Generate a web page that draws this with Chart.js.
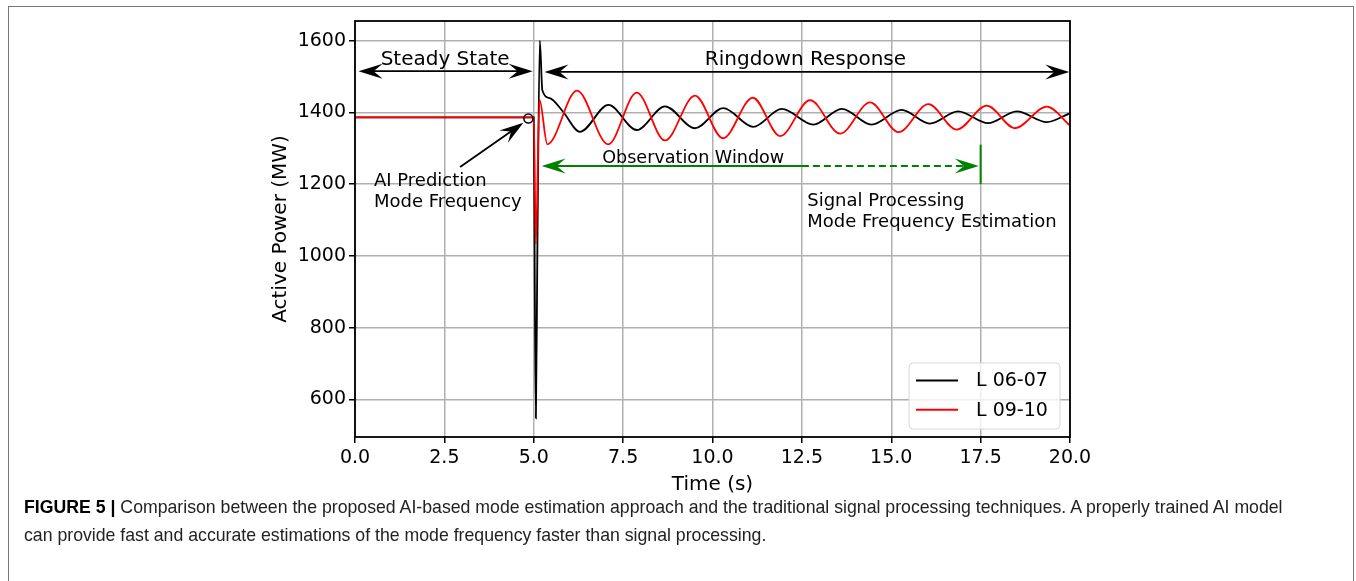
<!DOCTYPE html>
<html>
<head>
<meta charset="utf-8">
<script src="https://cdn.jsdelivr.net/npm/chart.js@4.4.1/dist/chart.umd.min.js"></script>
<style>
  html, body { margin: 0; padding: 0; background: #fff; width: 1356px; height: 581px; overflow: hidden; }
  .frame { position: absolute; left: 8px; top: 6px; width: 1344px; height: 640px; border: 1px solid #777; }
  #chartWrap { position: absolute; left: 0; top: 0; width: 1356px; height: 500px; }
  .caption { position: absolute; left: 24px; top: 493px; font: 17.7px 'Liberation Sans', Arial, sans-serif; line-height: 28px; color: #222; white-space: nowrap; }
  .caption b { color: #000; }
</style>
</head>
<body>
<div class="frame"></div>
<div id="chartWrap"><canvas id="chart" width="1356" height="500"></canvas></div>
<div class="caption"><b>FIGURE 5 |</b> Comparison between the proposed AI-based mode estimation approach and the traditional signal processing techniques. A properly trained AI model<br>can provide fast and accurate estimations of the mode frequency faster than signal processing.</div>
<script>
// ── Data ──────────────────────────────────────────────────────────────
const xTicks = [0, 2.5, 5, 7.5, 10, 12.5, 15, 17.5, 20];
const yTicks = [600, 800, 1000, 1200, 1400, 1600];

// L 06-07 (black): steady state, fault spike, then ringdown extremes
const l0607Time  = [0, 5.00, 5.03, 5.06, 5.10, 5.17, 5.24, 5.45, 5.82, 6.29, 7.09, 7.88, 8.67, 9.51, 10.30, 11.14, 11.94, 12.82, 13.62, 14.45, 15.29, 16.08, 16.87, 17.71, 18.51, 19.35, 20.0];
const l0607Power = [1386, 1386, 900, 547, 1000, 1600, 1462, 1440, 1402, 1346, 1421, 1351, 1417, 1356, 1412, 1360, 1410, 1366, 1410, 1366, 1407, 1369, 1403, 1370, 1403, 1373, 1398];

// L 09-10 (red)
const l0910Time  = [0, 5.00, 5.06, 5.16, 5.38, 6.21, 7.08, 7.88, 8.67, 9.51, 10.29, 11.13, 11.89, 12.73, 13.57, 14.41, 15.20, 16.04, 16.83, 17.67, 18.46, 19.35, 20.0];
const l0910Power = [1386, 1386, 1033, 1436, 1311, 1461, 1311, 1455, 1322, 1447, 1328, 1441, 1334, 1434, 1341, 1428, 1345, 1423, 1352, 1419, 1356, 1416, 1364];

// AI prediction marker
const predTime  = [4.85];
const predPower = [1383];

const FONT = "'DejaVu Sans', sans-serif";
const GREEN = '#008000';

const toPoints = (xs, ys) => xs.map((x, i) => ({ x, y: ys[i] }));

// ── Drawing helpers ───────────────────────────────────────────────────
function arrowHead(ctx, x0, y0, x1, y1, color) {
  const a = Math.atan2(y1 - y0, x1 - x0);
  const L = 24, W = 7.5, N = 15;
  ctx.save();
  ctx.translate(x1, y1);
  ctx.rotate(a);
  ctx.beginPath();
  ctx.moveTo(0, 0);
  ctx.lineTo(-L, -W);
  ctx.lineTo(-N, 0);
  ctx.lineTo(-L, W);
  ctx.closePath();
  ctx.fillStyle = color;
  ctx.fill();
  ctx.restore();
}

function line(ctx, x0, y0, x1, y1, color, width, dash) {
  ctx.save();
  ctx.strokeStyle = color;
  ctx.lineWidth = width;
  ctx.setLineDash(dash || []);
  ctx.beginPath();
  ctx.moveTo(x0, y0);
  ctx.lineTo(x1, y1);
  ctx.stroke();
  ctx.restore();
}

function text(ctx, str, x, y, size, align) {
  ctx.save();
  ctx.font = `${size}px ${FONT}`;
  ctx.fillStyle = '#000';
  ctx.textAlign = align || 'left';
  ctx.textBaseline = 'alphabetic';
  ctx.fillText(str, x, y);
  ctx.restore();
}

// ── Annotations ───────────────────────────────────────────────────────
const annotations = {
  id: 'annotations',
  afterDatasetsDraw(chart) {
    const { ctx, scales } = chart;
    const px = t => scales.x.getPixelForValue(t);
    const py = v => scales.y.getPixelForValue(v);

    // Steady State
    let yy = py(1515);
    line(ctx, px(0.1) + 10, yy, px(4.97) - 10, yy, '#000', 1.8);
    arrowHead(ctx, px(4.97), yy, px(0.1), yy, '#000');
    arrowHead(ctx, px(0.1), yy, px(4.97), yy, '#000');
    text(ctx, 'Steady State', px(2.52), py(1531), 20, 'center');

    // Ringdown Response
    yy = py(1513);
    line(ctx, px(5.3) + 10, yy, px(19.98) - 10, yy, '#000', 1.8);
    arrowHead(ctx, px(19.98), yy, px(5.3), yy, '#000');
    arrowHead(ctx, px(5.3), yy, px(19.98), yy, '#000');
    text(ctx, 'Ringdown Response', px(12.6), py(1533), 20, 'center');

    // Observation Window
    yy = py(1251);
    line(ctx, px(12.5), yy, px(5.22) + 10, yy, GREEN, 2);
    arrowHead(ctx, px(12.5), yy, px(5.22), yy, GREEN);
    line(ctx, px(12.5), yy, px(17.45) - 10, yy, GREEN, 2, [7, 4]);
    arrowHead(ctx, px(12.5), yy, px(17.45), yy, GREEN);
    line(ctx, px(17.5), py(1200), px(17.5), py(1310), GREEN, 2);
    text(ctx, 'Observation Window', px(9.46), py(1260), 17.6, 'center');

    // AI Prediction arrow
    const ax0 = px(2.94), ay0 = py(1248), ax1 = px(4.71), ay1 = py(1371);
    const ang = Math.atan2(ay1 - ay0, ax1 - ax0);
    line(ctx, ax0, ay0, ax1 - 10 * Math.cos(ang), ay1 - 10 * Math.sin(ang), '#000', 1.8);
    arrowHead(ctx, ax0, ay0, ax1, ay1, '#000');
    text(ctx, 'AI Prediction', px(0.53), py(1195), 18);
    text(ctx, 'Mode Frequency', px(0.53), py(1135), 18);

    // Signal processing
    text(ctx, 'Signal Processing', px(12.65), py(1140), 18);
    text(ctx, 'Mode Frequency Estimation', px(12.65), py(1080), 18);
  },
  afterDraw(chart) {
    const { ctx, chartArea: a } = chart;
    // frame
    ctx.save();
    ctx.strokeStyle = '#000';
    ctx.lineWidth = 1.8;
    ctx.strokeRect(a.left, a.top, a.right - a.left, a.bottom - a.top);
    ctx.restore();

    // legend, lower right inside the axes
    const bx = a.right - 161, by = a.bottom - 74, bw = 151, bh = 66;
    ctx.save();
    ctx.beginPath();
    ctx.roundRect(bx, by, bw, bh, 4);
    ctx.fillStyle = 'rgba(255,255,255,0.8)';
    ctx.fill();
    ctx.strokeStyle = '#d6d6d6';
    ctx.lineWidth = 1;
    ctx.stroke();
    ctx.restore();
    chart.data.datasets.slice(0, 2).forEach((ds, i) => {
      const ly = by + 17.5 + i * 29.3;
      line(ctx, bx + 7, ly, bx + 49, ly, ds.borderColor, 2);
      ctx.save();
      ctx.font = `19px ${FONT}`;
      ctx.fillStyle = '#000';
      ctx.textBaseline = 'middle';
      ctx.fillText(ds.label, bx + 67, ly + 1);
      ctx.restore();
    });
  }
};

// ── Chart ─────────────────────────────────────────────────────────────
const gridOpts = { color: '#b0b0b0', lineWidth: 1.5, tickColor: '#000', tickWidth: 1.5, tickLength: 6 };

new Chart(document.getElementById('chart').getContext('2d'), {
  type: 'line',
  data: {
    datasets: [
      { label: 'L 06-07', data: toPoints(l0607Time, l0607Power), borderColor: '#000000', borderWidth: 1.8,
        pointRadius: 0, cubicInterpolationMode: 'monotone', order: 2 },
      { label: 'L 09-10', data: toPoints(l0910Time, l0910Power), borderColor: '#ff0000', borderWidth: 1.8,
        pointRadius: 0, cubicInterpolationMode: 'monotone', order: 1 },
      { label: 'prediction', data: toPoints(predTime, predPower), showLine: false, pointRadius: 4.5,
        pointBorderColor: '#000', pointBackgroundColor: 'rgba(0,0,0,0)', pointBorderWidth: 1.5, order: 0 }
    ]
  },
  options: {
    responsive: false,
    animation: false,
    devicePixelRatio: 1,
    layout: { padding: { left: 265, right: 286, top: 21, bottom: 1 } },
    plugins: { legend: { display: false }, tooltip: { enabled: false } },
    scales: {
      x: {
        type: 'linear', min: 0, max: 20,
        afterBuildTicks: s => { s.ticks = xTicks.map(value => ({ value })); },
        afterFit: s => { s.height = 62; s.paddingLeft = 0; s.paddingRight = 0; },
        ticks: { callback: v => Number(v).toFixed(1), color: '#000', font: { family: FONT, size: 19 }, padding: 4, maxRotation: 0, autoSkip: false },
        grid: gridOpts,
        border: { display: false },
        title: { display: true, text: 'Time (s)', color: '#000', font: { family: FONT, size: 20 }, padding: { top: 0, bottom: 2 } }
      },
      y: {
        type: 'linear', min: 495, max: 1655,
        afterBuildTicks: s => { s.ticks = yTicks.map(value => ({ value })); },
        afterFit: s => { s.width = 90; s.paddingTop = 0; s.paddingBottom = 0; },
        ticks: { callback: v => String(v), color: '#000', font: { family: FONT, size: 19 }, padding: 3 },
        grid: gridOpts,
        border: { display: false },
        title: { display: true, text: 'Active Power (MW)', color: '#000', font: { family: FONT, size: 20 }, padding: { top: 4, bottom: 0 } }
      }
    }
  },
  plugins: [annotations]
});
</script>
</body>
</html>
